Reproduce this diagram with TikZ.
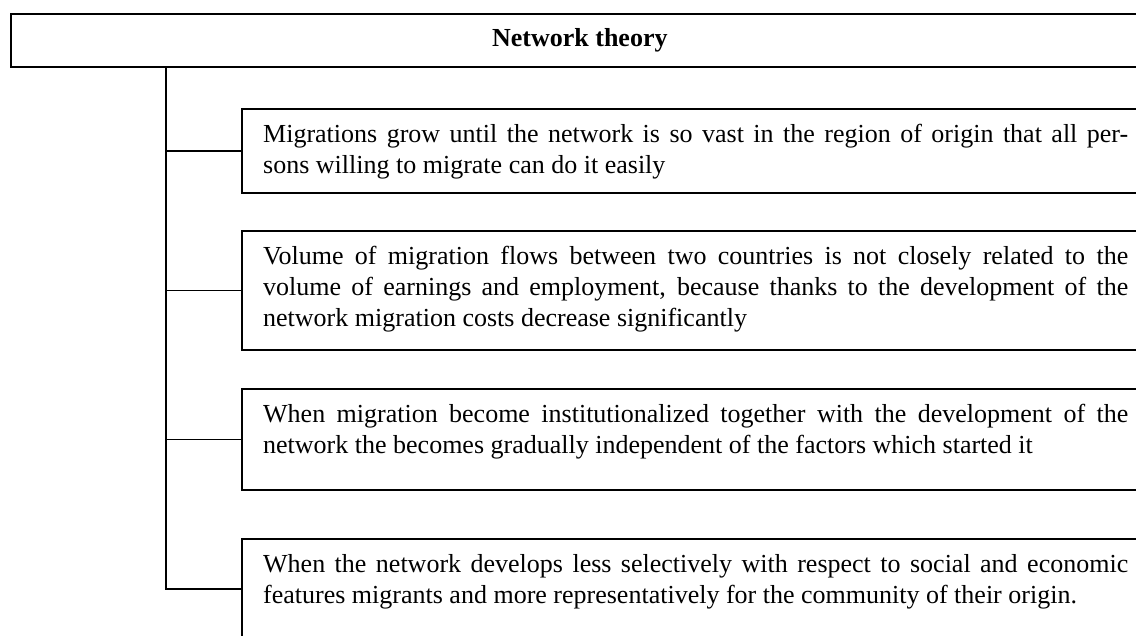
\documentclass[tikz,border=0pt]{standalone}
\usepackage{fontspec}
\setmainfont{Liberation Serif}
\usetikzlibrary{calc}
\tolerance=9999
\hbadness=10000
\hyphenpenalty=10000
\begin{document}
\begin{tikzpicture}[x=1pt,y=-1pt,
  frame/.style={draw, line width=1.7pt, inner sep=0pt, anchor=north west},
  item/.style={frame, minimum width=909pt},
  body/.style={anchor=north west, inner sep=0pt, text width=865pt, align=justify,
    font=\fontsize{26}{31}\selectfont},
  link/.style={line width=1.7pt}]
\useasboundingbox (0,0) rectangle (1136,635);
\clip (0,0) rectangle (1136,635);

% heading bar
\node[frame, minimum width=1138pt, minimum height=53pt,
  font=\fontsize{26}{31}\selectfont\bfseries] (title) at (10,13) {\raisebox{-1.5pt}{Network theory}};

% the four statement boxes
\node[item, minimum height=84pt]  (b1) at (241,108) {};
\node[item, minimum height=119pt] (b2) at (241,230) {};
\node[item, minimum height=101pt] (b3) at (241,388) {};
\node[item, minimum height=100pt] (b4) at (241,538) {};

\node[body] (t1) at ($(b1.north west)+(22,12.3)$) {\strut Migrations grow until the network is so vast in the region of origin that all per-\linebreak sons willing to migrate can do it easily};
\node[body] (t2) at ($(b2.north west)+(22,12.3)$) {\strut Volume of migration flows between two countries is not closely related to the\linebreak volume of earnings and employment, because thanks to the development of the\linebreak network migration costs decrease significantly};
\node[body] (t3) at ($(b3.north west)+(22,12.3)$) {\strut When migration become institutionalized together with the development of the\linebreak network the becomes gradually independent of the factors which started it};
\node[body] (t4) at ($(b4.north west)+(22,12.3)$) {\strut When the network develops less selectively with respect to social and economic\linebreak features migrants and more representatively for the community of their origin.};

% spine and branches
\coordinate (spine) at (166,0);
\draw[link] (title.south -| spine) |- (b4.west);
\draw[link] (b1.west -| spine) -- (b1.west);
\draw[link] (b2.west -| spine) -- (b2.west);
\draw[link] (b3.west -| spine) -- (b3.west);
\end{tikzpicture}
\end{document}
